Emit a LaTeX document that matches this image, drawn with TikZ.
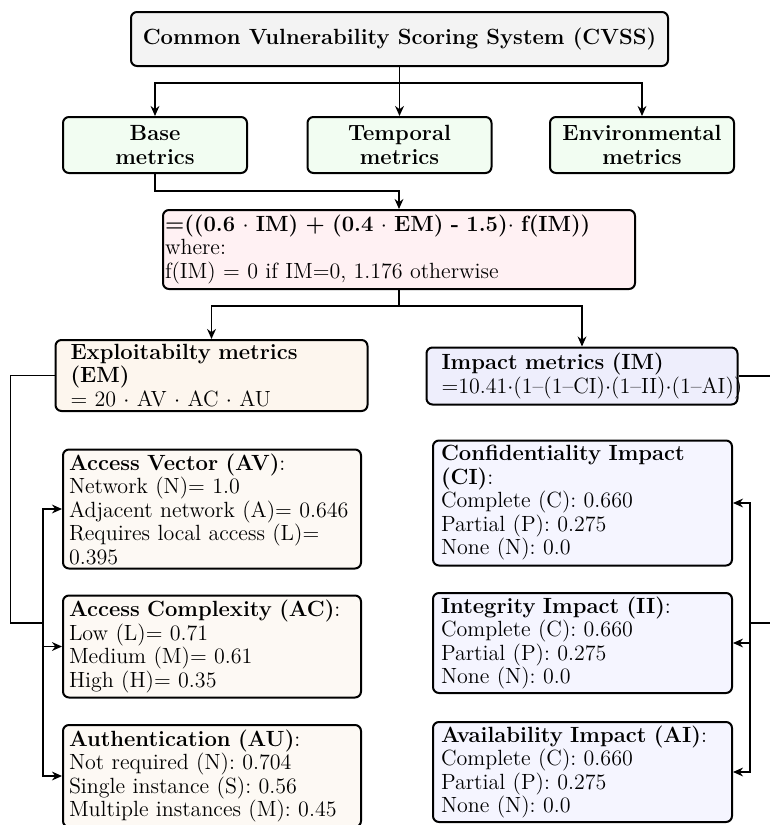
\documentclass[tikz,border=0pt]{standalone}
\usepackage{fontspec}
\usetikzlibrary{arrows.meta}
\newcommand\fsz{\fontsize{11}{11.75}\selectfont}
\definecolor{cgray}{HTML}{F3F3F3}
\definecolor{cgreen}{HTML}{F2FDF2}
\definecolor{cpink}{HTML}{FFF1F3}
\definecolor{cem}{HTML}{FDF6EE}
\definecolor{cim}{HTML}{EEEEFC}
\definecolor{cav}{HTML}{FDF9F4}
\definecolor{cci}{HTML}{F5F5FF}
\tikzset{
  box/.style={draw, line width=1pt, rounded corners=3pt, font=\fsz, inner ysep=0pt},
  gbox/.style={box, fill=cgreen, minimum width=92pt, minimum height=28pt, align=center, font=\fsz\bfseries, inner xsep=0pt},
  lbox/.style={box, align=left, inner xsep=3pt, text width=143pt},
  rbox/.style={box, align=left, inner xsep=4pt, text width=141.5pt},
  conn/.style={line width=0.8pt},
  arr/.style={conn, -{Stealth[length=5pt,width=4.4pt]}},
}
\begin{document}
\begin{tikzpicture}[x=0.5pt,y=-0.5pt]
\useasboundingbox (0,0) rectangle (770,825);
\begin{scope}
\clip (0,0) rectangle (770,825);
\node[box, fill=cgray, minimum width=268.5pt, minimum height=27pt, font=\fsz\bfseries] (cvss) at (399.5,39) {Common Vulnerability Scoring System (CVSS)};
\node[gbox] (base) at (155,145) {Base\\metrics};
\node[gbox] (temp) at (399.5,145) {Temporal\\metrics};
\node[gbox] (env) at (642,145) {Environmental\\metrics};
\node[box, fill=cpink, align=left, inner xsep=1pt, text width=234pt, minimum height=39.5pt] (formula) at (399,249.5)
  {\textbf{=((0.6 $\cdot$ IM) + (0.4 $\cdot$ EM) - 1.5)$\cdot$ f(IM))}\\where:\\f(IM) = 0 if IM=0, 1.176 otherwise};
\node[box, fill=cem, align=left, inner xsep=7.5pt, text width=141pt, minimum height=35.5pt] (em) at (211.5,375.5)
  {\textbf{Exploitabilty metrics}\\\textbf{(EM)}\\= 20 $\cdot$ AV $\cdot$ AC $\cdot$ AU};
\node[box, fill=cim, align=left, inner xsep=7.5pt, text width=140.5pt, minimum height=28.5pt] (im) at (582,376)
  {\textbf{Impact metrics (IM)}\\\mbox{=10.41$\cdot$(1--(1--CI)$\cdot$(1--II)$\cdot$(1--AI))}};
\node[lbox, fill=cav, minimum height=59.5pt] (av) at (212,509)
  {\textbf{Access Vector (AV)}:\\Network (N)= 1.0\\Adjacent network (A)= 0.646\\Requires local access (L)=\\0.395};
\node[lbox, fill=cav, minimum height=51pt] (ac) at (212,646.5)
  {\textbf{Access Complexity (AC)}:\\Low (L)= 0.71\\Medium (M)= 0.61\\High (H)= 0.35};
\node[lbox, fill=cav, minimum height=51pt] (au) at (212,776)
  {\textbf{Authentication (AU)}:\\Not required (N): 0.704\\Single instance (S): 0.56\\Multiple instances (M): 0.45};
\node[rbox, fill=cci, minimum height=62.5pt] (ci) at (582.5,503)
  {\textbf{Confidentiality Impact}\\\textbf{(CI)}:\\Complete (C): 0.660\\Partial (P): 0.275\\None (N): 0.0};
\node[rbox, fill=cci, minimum height=50pt] (ii) at (582.5,643)
  {\textbf{Integrity Impact (II)}:\\Complete (C): 0.660\\Partial (P): 0.275\\None (N): 0.0};
\node[rbox, fill=cci, minimum height=50pt] (ai) at (582.5,772)
  {\textbf{Availability Impact (AI)}:\\Complete (C): 0.660\\Partial (P): 0.275\\None (N): 0.0};
% connectors
\draw[conn] (cvss.south) -- ++(0,16) coordinate (s1);
\draw[arr] (s1) -| (base.north);
\draw[arr] (s1) -| (env.north);
\draw[arr] (cvss.south) -- (temp.north);
\draw[arr] (base.south) -- ++(0,17) -| (formula.north);
\draw[conn] (formula.south) -- ++(0,16) coordinate (s2);
\draw[arr] (s2) -| (em.north);
\draw[arr] (s2) -| (im.north);
\coordinate (busL) at (43,623);
\draw[conn] (em.west) -- ++(-44,0) |- (busL);
\draw[arr] (busL) |- (av.west);
\draw[arr] (busL) |- (ac.west);
\draw[arr] (busL) |- (au.west);
\coordinate (busR) at (750,623);
\draw[conn] (im.east) -- ++(60,0) |- (busR);
\draw[arr] (busR) |- (ci.east);
\draw[arr] (busR) |- (ii.east);
\draw[arr] (busR) |- (ai.east);
\end{scope}
\end{tikzpicture}
\end{document}
